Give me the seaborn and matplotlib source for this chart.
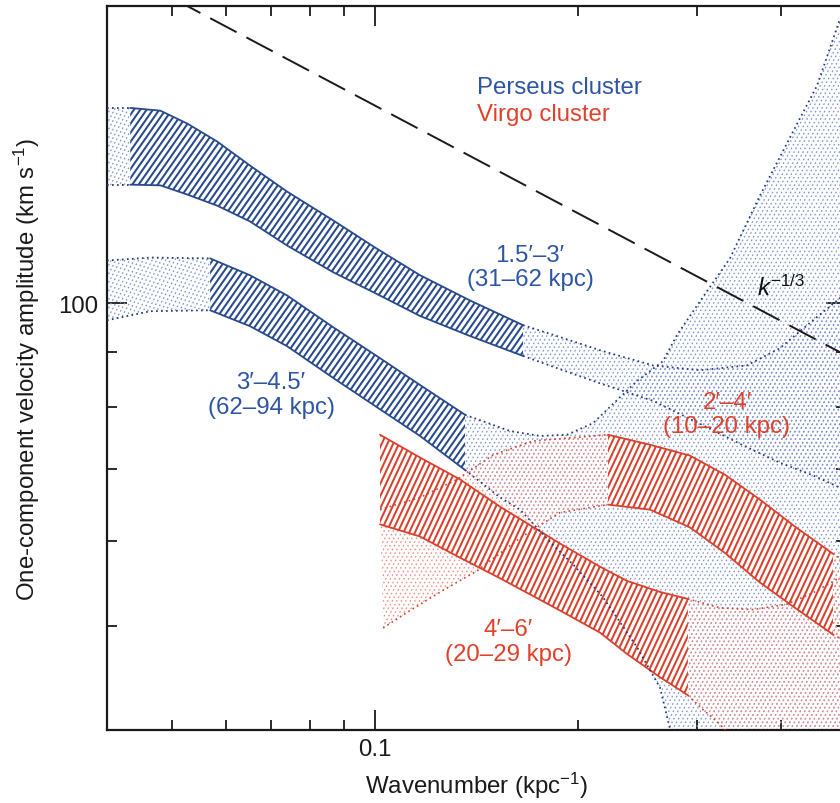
import numpy as np
import matplotlib
matplotlib.use("Agg")
import matplotlib.pyplot as plt
from matplotlib.collections import LineCollection
from matplotlib.transforms import IdentityTransform
from matplotlib.ticker import NullFormatter
import seaborn as sns

# ---------------- data ----------------
# Perseus 1.5'-3' (31-62 kpc): reliable (hatched) band
pA_k = [0.0433, 0.0480, 0.0526, 0.0583, 0.0652, 0.0740, 0.0866, 0.1000, 0.1166, 0.1383, 0.1658]
pA_hi = [152.1, 151.2, 147.1, 141.5, 134.4, 127.1, 119.5, 112.7, 106.2, 100.6, 95.4]
pA_lo = [129.0, 128.8, 126.3, 123.3, 119.2, 113.2, 106.9, 102.2, 97.3, 93.2, 89.3]
# ... and its uncertain extensions
pA_left_k = [0.0400, 0.0433]
pA_left_hi = [152.1, 152.1]
pA_left_lo = [129.0, 129.0]
pA_right_k = [0.1658, 0.1881, 0.2157, 0.2585, 0.3035, 0.3564, 0.3989, 0.4467, 0.4898, 0.505]
pA_right_hi = [95.4, 93.0, 90.4, 87.5, 86.6, 87.5, 90.8, 96.4, 101.1, 103.0]
pA_right_lo = [89.3, 86.8, 84.2, 81.1, 77.2, 73.4, 71.0, 69.1, 67.3, 66.6]

# Perseus 3'-4.5' (62-94 kpc)
pB_k = [0.0569, 0.0652, 0.0740, 0.0866, 0.1000, 0.1166, 0.1360]
pB_hi = [110.1, 106.2, 101.7, 95.0, 89.5, 83.9, 78.7]
pB_lo = [98.5, 95.2, 91.2, 85.2, 80.2, 75.2, 69.9]
pB_left_k = [0.0400, 0.0464, 0.0569]
pB_left_hi = [109.6, 110.3, 110.1]
pB_left_lo = [96.4, 98.3, 98.5]
pB_right_hi_k = [0.1360, 0.1586, 0.1757, 0.1927, 0.2106, 0.2447, 0.2675, 0.2806,
                 0.3035, 0.3363, 0.3726, 0.4171, 0.4528, 0.4898]
pB_right_hi_v = [78.7, 76.0, 75.2, 75.4, 77.3, 84.6, 88.3, 93.4,
                 100.4, 110.1, 126.0, 144.5, 159.5, 184.1]
pB_right_lo_k = [0.1360, 0.1533, 0.1641, 0.1837, 0.1966, 0.2179, 0.2447, 0.2648, 0.2740]
pB_right_lo_v = [69.9, 65.9, 64.2, 59.5, 57.1, 53.2, 47.8, 43.8, 40.1]

# Virgo 2'-4' (10-20 kpc)
vC_k = [0.2217, 0.2559, 0.2933, 0.3306, 0.3726, 0.4200, 0.4782]
vC_hi = [75.4, 73.8, 72.1, 69.2, 65.6, 61.9, 58.4]
vC_lo = [64.9, 64.2, 61.8, 58.5, 54.9, 52.0, 49.1]
vC_left_hi_k = [0.1017, 0.1166, 0.1323, 0.1497, 0.1716, 0.2106, 0.2217]
vC_left_hi_v = [64.2, 65.9, 68.5, 72.2, 74.4, 75.2, 75.4]
vC_left_lo_k = [0.1028, 0.1127, 0.1262, 0.1417, 0.1641, 0.1881, 0.2217]
vC_left_lo_v = [49.8, 51.7, 54.0, 56.3, 60.4, 63.8, 64.9]
vC_right_k = [0.4782, 0.505]
vC_right_hi = [58.4, 57.2]
vC_right_lo = [49.1, 48.2]

# Virgo 4'-6' (20-29 kpc)
vD_k = [0.1017, 0.1166, 0.1337, 0.1533, 0.1881, 0.2157, 0.2365, 0.2648, 0.2913]
vD_hi = [75.4, 71.8, 68.5, 64.6, 59.7, 56.8, 55.1, 53.8, 53.0]
vD_lo = [62.2, 60.6, 57.9, 55.4, 51.7, 49.3, 47.1, 44.8, 43.1]
vD_right_hi_k = [0.2913, 0.3250, 0.3638, 0.4086, 0.4467, 0.4898, 0.505]
vD_right_hi_v = [53.0, 52.0, 51.8, 52.4, 53.7, 55.5, 56.2]
vD_right_lo_k = [0.2913, 0.3066, 0.3250, 0.3420]
vD_right_lo_v = [43.1, 41.8, 40.5, 39.0]

# Kolmogorov k^(-1/3) reference slope
kol_k = [0.04, 0.5]
kol_v = [207.4, 89.4]

# axis settings
x_major = [0.1]
x_minor = [0.04, 0.05, 0.06, 0.07, 0.08, 0.09, 0.2, 0.3, 0.4, 0.5]
y_major = [100]
y_minor = [40, 50, 60, 70, 80, 90]

# ---------------- style ----------------
sns.set_style("ticks")
plt.rcParams["font.family"] = ["Liberation Sans", "DejaVu Sans"]
plt.rcParams["mathtext.fontset"] = "custom"
plt.rcParams["mathtext.rm"] = "Liberation Sans"
plt.rcParams["mathtext.it"] = "Liberation Sans:italic"
plt.rcParams["mathtext.bf"] = "Liberation Sans:bold"
plt.rcParams["lines.scale_dashes"] = False

FS = 17.3
BLUE_TXT = "#2d55a2"
RED_TXT = "#e0412b"
BLUE_LINE = "#284a8c"
BLUE_DOT = "#25377a"
RED_LINE = "#d8412d"
RED_DOT = "#d4412f"
BLUE_STIP = "#7a93cf"
RED_STIP = "#ec8a7c"

K_PAST, V_LOW, V_HIGH = 0.62, 30.0, 260.0

fig = plt.figure(figsize=(8.4, 8.04), dpi=100)
ax = fig.add_axes([107 / 840, 73 / 804, 739 / 840, 724 / 804])
ax.set_xscale("log")
ax.set_yscale("log")
ax.set_xlim(0.04, 0.5)
ax.set_ylim(40, 189.3)


def region(k_top, v_top, k_bot, v_bot, face="none", z=1.0):
    xs = list(k_top) + list(k_bot)[::-1]
    ys = list(v_top) + list(v_bot)[::-1]
    return ax.fill(xs, ys, facecolor=face, edgecolor="none", zorder=z)[0]


def stripes(patch, color, angle, step, lw, pattern=None, z=2.0):
    W, H = fig.bbox.width, fig.bbox.height
    a = np.deg2rad(angle)
    d = np.array([np.cos(a), np.sin(a)])
    n = np.array([-np.sin(a), np.cos(a)])
    L = np.hypot(W, H)
    c = np.array([W / 2, H / 2])
    segs = [np.array([c + o * n - L * d, c + o * n + L * d])
            for o in np.arange(-L / 2, L / 2, step)]
    ls = "solid" if pattern is None else (0, pattern)
    lc = LineCollection(segs, colors=color, linewidths=lw, linestyles=ls,
                        transform=IdentityTransform(), zorder=z, capstyle="butt")
    ax.add_collection(lc, autolim=False)
    lc.set_clip_path(patch)


def stipple(patch, color, z=1.1):
    stripes(patch, color, 62, 4.0, 0.9, pattern=(1.2, 1.8), z=z)


def edge(k, v, color, ls, lw=1.1, z=3.0):
    sns.lineplot(x=k, y=v, ax=ax, color=color, linewidth=lw, linestyle=ls,
                 sort=False, estimator=None, zorder=z)


DOT = (0, (1.2, 2.4))

# ---- uncertain (stippled) regions ----
stipple(region(pA_left_k, pA_left_hi, pA_left_k, pA_left_lo), BLUE_STIP)
stipple(region(pB_left_k, pB_left_hi, pB_left_k, pB_left_lo), BLUE_STIP)
stipple(region(pA_right_k, pA_right_hi, pA_right_k, pA_right_lo), BLUE_STIP)
stipple(region(pB_right_hi_k + [K_PAST], pB_right_hi_v + [V_HIGH],
               pB_right_lo_k + [K_PAST], pB_right_lo_v + [V_LOW]), BLUE_STIP)
stipple(region(vC_left_hi_k, vC_left_hi_v, vC_left_lo_k, vC_left_lo_v), RED_STIP, z=1.2)
stipple(region(vC_right_k, vC_right_hi, vC_right_k, vC_right_lo), RED_STIP, z=1.2)
stipple(region(vD_right_hi_k + [K_PAST], vD_right_hi_v + [vD_right_hi_v[-1]],
               vD_right_lo_k + [K_PAST], vD_right_lo_v + [V_LOW]), RED_STIP, z=1.2)

# ---- reliable (hatched) bands ----
for k, hi, lo, col, ang in [(pA_k, pA_hi, pA_lo, BLUE_LINE, 55),
                            (pB_k, pB_hi, pB_lo, BLUE_LINE, 55),
                            (vC_k, vC_hi, vC_lo, RED_LINE, 65),
                            (vD_k, vD_hi, vD_lo, RED_LINE, 65)]:
    p = region(k, hi, k, lo, face="white", z=2.0)
    stripes(p, col, ang, 5.2, 1.45, z=2.1)
    edge(k, hi, col, "-", lw=1.3)
    edge(k, lo, col, "-", lw=1.3)

# ---- dotted boundaries of uncertain regions ----
for k, v in [(pA_left_k, pA_left_hi), (pA_left_k, pA_left_lo),
             (pB_left_k, pB_left_hi), (pB_left_k, pB_left_lo),
             (pA_right_k, pA_right_hi), (pA_right_k, pA_right_lo),
             (pB_right_hi_k, pB_right_hi_v), (pB_right_lo_k, pB_right_lo_v)]:
    edge(k, v, BLUE_DOT, DOT, lw=1.3)
for k, v in [(vC_left_hi_k, vC_left_hi_v), (vC_left_lo_k, vC_left_lo_v),
             (vC_right_k, vC_right_hi), (vC_right_k, vC_right_lo),
             (vD_right_hi_k, vD_right_hi_v), (vD_right_lo_k, vD_right_lo_v)]:
    edge(k, v, RED_DOT, DOT, lw=1.2)

# ---- Kolmogorov slope ----
edge(kol_k, kol_v, "#1a1a1a", (0, (21.5, 8.0)), lw=1.4, z=4)

# ---- annotations ----
ax.text(0.1417, 157.2, "Perseus cluster", color=BLUE_TXT, fontsize=FS, ha="left", va="baseline")
ax.text(0.1417, 148.3, "Virgo cluster", color=RED_TXT, fontsize=FS, ha="left", va="baseline")
ax.text(0.1698, 109.6, "1.5\u2032\u20133\u2032", color=BLUE_TXT, fontsize=FS, ha="center", va="baseline")
ax.text(0.1698, 103.9, "(31\u201362 kpc)", color=BLUE_TXT, fontsize=FS, ha="center", va="baseline")
ax.text(0.0701, 83.4, "3\u2032\u20134.5\u2032", color=BLUE_TXT, fontsize=FS, ha="center", va="baseline")
ax.text(0.0701, 79.0, "(62\u201394 kpc)", color=BLUE_TXT, fontsize=FS, ha="center", va="baseline")
ax.text(0.3329, 79.8, "2\u2032\u20134\u2032", color=RED_TXT, fontsize=FS, ha="center", va="baseline", zorder=5)
ax.text(0.3329, 75.9, "(10\u201320 kpc)", color=RED_TXT, fontsize=FS, ha="center", va="baseline", zorder=5)
ax.text(0.1575, 49.1, "4\u2032\u20136\u2032", color=RED_TXT, fontsize=FS, ha="center", va="baseline")
ax.text(0.1575, 46.5, "(20\u201329 kpc)", color=RED_TXT, fontsize=FS, ha="center", va="baseline")
ax.text(0.3688, 101.7, r"$k^{-1/3}$", color="#111111", fontsize=FS, ha="left", va="baseline", zorder=5)

# ---- axes ----
ax.set_xticks(x_major, labels=["0.1"])
ax.set_xticks(x_minor, minor=True)
ax.set_yticks(y_major, labels=["100"])
ax.set_yticks(y_minor, minor=True)
ax.xaxis.set_minor_formatter(NullFormatter())
ax.yaxis.set_minor_formatter(NullFormatter())
ax.tick_params(which="both", direction="in", top=True, right=True, width=1.3,
               colors="#1a1a1a", labelsize=FS, labelcolor="#1a1a1a")
ax.tick_params(which="major", length=14.4, pad=6)
ax.tick_params(which="minor", length=7.2)
for s in ax.spines.values():
    s.set_linewidth(1.6)
    s.set_color("#1a1a1a")
ax.set_xlabel("Wavenumber (kpc$^{-1}$)", fontsize=FS, labelpad=7, color="#1a1a1a")
ax.set_ylabel("One-component velocity amplitude (km s$^{-1}$)", fontsize=FS,
              labelpad=12, color="#1a1a1a")

fig.savefig("out.png", dpi=100)
